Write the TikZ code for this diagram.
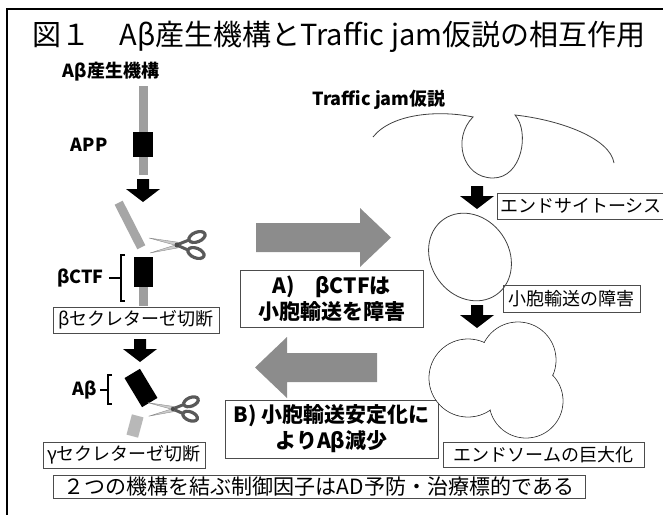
\documentclass[tikz,border=0pt]{standalone}
\usepackage{fontspec}
\setmainfont{Noto Sans CJK JP}
\usetikzlibrary{positioning}

\begin{document}
\begin{tikzpicture}[x=1pt, y=-1pt, node distance={6pt},
	box/.style = {draw=black!70, line width=0.8pt, inner sep=0pt, font=\fontsize{18}{21}\selectfont},
	bbox/.style = {draw=black!70, line width=0.8pt, inner sep=0pt, align=center, font=\bfseries\fontsize{21}{26}\selectfont},
	hd/.style = {inner sep=0pt, font=\bfseries\fontsize{18}{21}\selectfont},
	blk/.style = {fill=black, inner sep=0pt},
	frag/.style = {fill=black!35, inner sep=0pt},
	bar/.style = {fill=black!38},
	garrow/.style = {fill=black!45},
	memb/.style = {draw=black!75, line width=0.8pt},
	brk/.style = {draw=black, line width=1.8pt},
	dnarrow/.pic = {\fill (-6,0) -- (6,0) -- (6,10) -- (17,10) -- (0,23) -- (-17,10) -- (-6,10) -- cycle;},
	scissors/.pic = {
		\filldraw[fill=black!20, draw=black!45, line width=0.4pt] (-28,-7) -- (3,-2.5) -- (3,1.5) -- cycle;
		\filldraw[fill=black!20, draw=black!45, line width=0.4pt] (-27,8) -- (3,2.5) -- (3,-1.5) -- cycle;
		\draw[black!65, line width=3pt] (2,-1) -- (12,-5) (2,1) -- (11,5);
		\draw[black!65, line width=3.2pt, rotate around={22:(20,-8)}] (20,-8) ellipse [x radius=8.5, y radius=4.8];
		\draw[black!65, line width=3.2pt, rotate around={-22:(19,8)}] (19,8) ellipse [x radius=8.5, y radius=4.8];
		\fill[black!70] (0,0) circle (2.5);}]
	\useasboundingbox (0,0) rectangle (663,514);
	\draw[line width=2pt] (7,520) -- (7,9) -- (670,9);

	\node[font=\fontsize{29}{33}\selectfont, inner sep=0pt] (title) at (339,37) {図１　Aβ産生機構とTraffic jam仮説の相互作用};
	\node[hd] (h1) at (111,72) {Aβ産生機構};
	\node[hd] (h2) at (379,100) {Traffic jam仮説};

	\fill[bar] (138.5,86) rectangle (147.5,175);
	\node[blk, minimum width=20pt, minimum height=25pt] (p1) at (143,144.5) {};
	\node[hd] (app) [left=25pt of p1] {APP};
	\pic at (143,179) {dnarrow};

	\node[frag, minimum width=9pt, minimum height=50pt, rotate=27] (f1) at (130,225) {};
	\pic at (177,245) {scissors};
	\fill[bar] (139,287) rectangle (148,306);
	\node[blk, minimum width=19pt, minimum height=30pt] (p2) at (143.5,272) {};
	\draw[brk] (125,255) -- (121,255) -- (121,301) -- (125,301);
	\draw[brk] (121,278) -- coordinate[pos=1] (k1) (109,278);
	\node[hd] (bctf) [left=5pt of k1] {βCTF};
	\node[box, minimum width=166pt, minimum height=26pt] (bs) at (136,320) {βセクレターゼ切断};

	\pic at (140,339) {dnarrow};
	\node[blk, minimum width=18pt, minimum height=34pt, rotate=31] (p3) at (141,388) {};
	\draw[brk] (112,375) -- (108,375) -- (108,404) -- (112,404);
	\draw[brk] (108,390) -- coordinate[pos=1] (k2) (100,390);
	\node[hd] (ab) [left=3pt of k2] {Aβ};
	\node[frag, fill=black!28, minimum width=12pt, minimum height=21pt, rotate=-15] (f2) at (135,426) {};
	\pic[scale=0.9] at (173,409) {scissors};
	\node[box, minimum width=162pt, minimum height=26pt] (gs) at (124,455) {γセクレターゼ切断};

	\fill[garrow] (256,223) -- (360,223) -- (360,208) -- (391,237.5) -- (360,267) -- (360,252) -- (256,252) -- cycle;
	\node[bbox, minimum width=183pt, minimum height=57pt] (ra) at (331.5,298.5) {A)　βCTFは\\小胞輸送を障害};
	\fill[garrow] (377,353) -- (287,353) -- (287,337) -- (255,367.5) -- (287,398) -- (287,382) -- (377,382) -- cycle;
	\node[bbox, minimum width=213pt, minimum height=58pt] (rb) at (331.5,429) {B) 小胞輸送安定化に\\よりAβ減少};

	\draw[memb] (373,137) .. controls (392,113) and (440,110) .. (473,117) .. controls (452,138) and (462,178) .. (493,178) .. controls (522,178) and (530,132) .. (515,115) .. controls (560,120) and (610,138) .. (614,163);
	\pic at (477,186) {dnarrow};
	\node[box, minimum width=168pt, minimum height=26pt] (en) at (581,206) {エンドサイトーシス};
	\draw[memb, rotate around={-55:(470,257)}] (470,257) ellipse [x radius=46, y radius=39];
	\node[box, minimum width=137pt, minimum height=27pt] (ve) at (571.5,298.5) {小胞輸送の障害};
	\pic at (477,305) {dnarrow};
	\draw[memb] (518,360) circle (38) (468,378) circle (39) (526,401) circle (37);
	\fill[white] (518,360) circle (37.4) (468,378) circle (38.4) (526,401) circle (36.4);
	\node[box, minimum width=201pt, minimum height=25pt] (eg) at (543.5,454.5) {エンドソームの巨大化};

	\node[box, minimum width=532pt, minimum height=23pt, font=\fontsize{21}{24}\selectfont] (sum) at (319,486.5) {２つの機構を結ぶ制御因子はAD予防・治療標的である};
\end{tikzpicture}
\end{document}
